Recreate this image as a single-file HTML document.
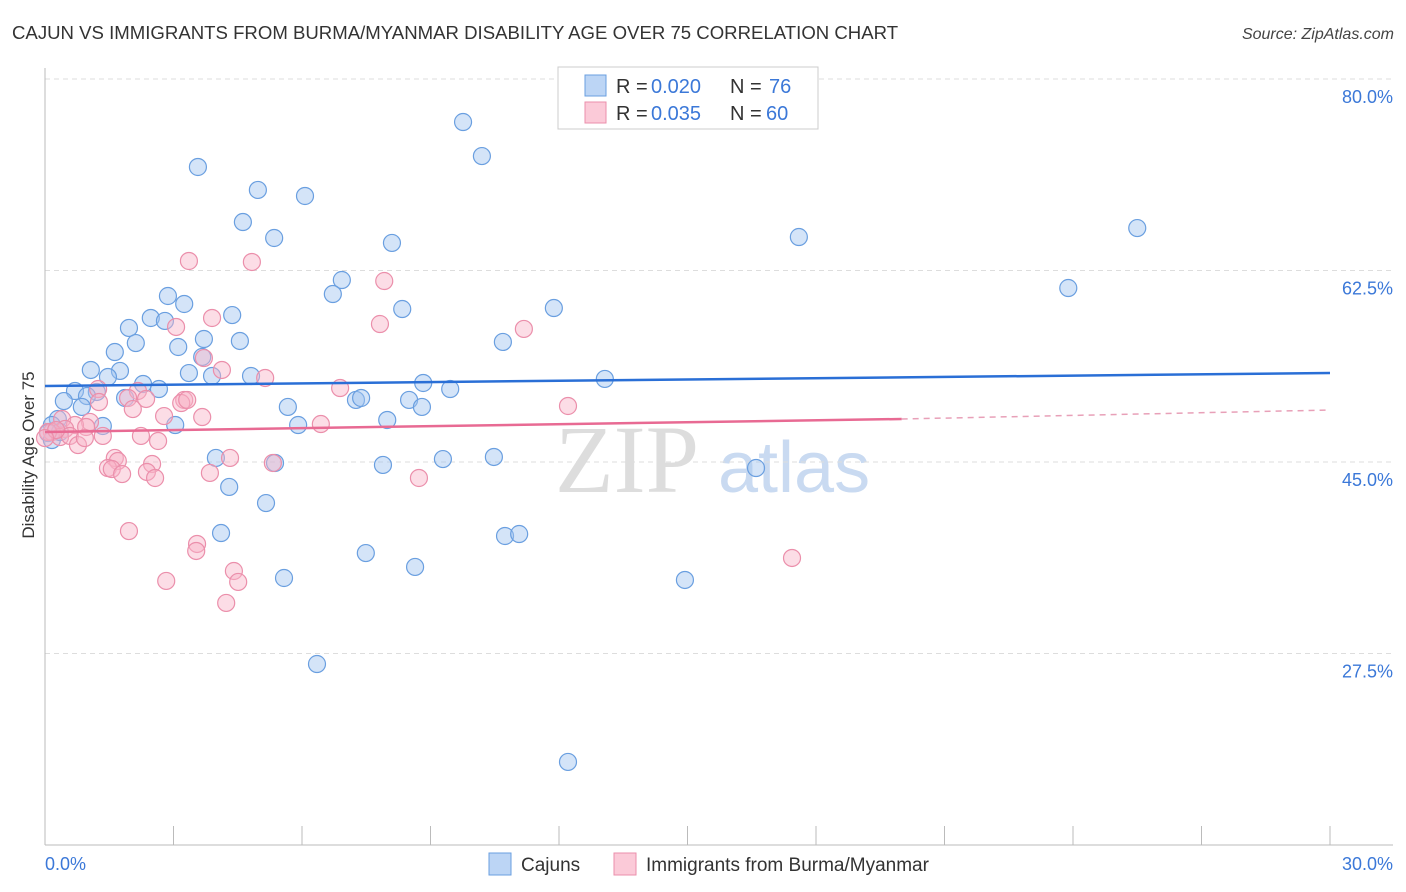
<!DOCTYPE html>
<html><head><meta charset="utf-8"><style>
body{margin:0;background:#fff;font-family:"Liberation Sans",sans-serif;}
svg{display:block}
</style></head><body>
<svg id="chart" width="1406" height="892" font-family="Liberation Sans, sans-serif">
<text x="12" y="39" font-size="18.6" fill="#333">CAJUN VS IMMIGRANTS FROM BURMA/MYANMAR DISABILITY AGE OVER 75 CORRELATION CHART</text>
<text x="1394" y="39" font-size="16" fill="#444" text-anchor="end" font-style="italic">Source: ZipAtlas.com</text>
<text x="555" y="492" font-size="96" fill="#ddd" font-family="Liberation Serif, serif">ZIP</text>
<text x="718" y="492" font-size="72" fill="#c9daf1">atlas</text>
<g id="grid"></g>
<g id="axes"></g>
<g id="marks"></g>
<text transform="translate(34,455) rotate(-90)" font-size="17" fill="#333" text-anchor="middle">Disability Age Over 75</text>
<text x="45" y="870" font-size="18" fill="#3b78d8">0.0%</text>
<text x="1393" y="870" font-size="18" fill="#3b78d8" text-anchor="end">30.0%</text>
<g>
<rect x="558" y="67" width="260" height="62" fill="#fff" stroke="#ccc"/>
<rect x="585" y="75" width="21" height="21" fill="#bcd5f5" stroke="#6a9fe0"/>
<rect x="585" y="102" width="21" height="21" fill="#fbcad8" stroke="#eb8fab"/>
<text x="616" y="93" font-size="20" fill="#333">R =</text>
<text x="651" y="93" font-size="20" fill="#3b78d8">0.020</text>
<text x="730" y="93" font-size="20" fill="#333">N =</text>
<text x="769" y="93" font-size="20" fill="#3b78d8">76</text>
<text x="616" y="120" font-size="20" fill="#333">R =</text>
<text x="651" y="120" font-size="20" fill="#3b78d8">0.035</text>
<text x="730" y="120" font-size="20" fill="#333">N =</text>
<text x="766" y="120" font-size="20" fill="#3b78d8">60</text>
</g>
<g>
<rect x="489" y="853" width="22" height="22" fill="#bcd5f5" stroke="#6a9fe0"/>
<text x="521" y="871" font-size="19" fill="#333">Cajuns</text>
<rect x="614" y="853" width="22" height="22" fill="#fbcad8" stroke="#eb8fab"/>
<text x="646" y="871" font-size="19" fill="#333">Immigrants from Burma/Myanmar</text>
</g>
</svg>
<script>
const yTicks=[80,62.5,45,27.5];
const yTickLabels=["80.0%","62.5%","45.0%","27.5%"];
const xTicks=[0,3,6,9,12,15,18,21,24,27,30];
const blueX=[9.76,10.20,3.57,4.97,6.07,4.62,5.35,8.10,17.60,25.50,23.89,6.93,2.87,6.72,3.25,8.34,11.88,2.47,2.80,4.37,1.96,3.71,4.55,2.12,3.11,10.69,1.63,3.67,1.07,1.75,3.36,3.90,1.47,4.81,8.83,13.07,2.29,2.66,0.70,9.46,1.21,0.98,1.87,7.26,7.38,8.50,0.44,5.67,8.80,0.86,0.30,1.35,3.04,5.91,7.99,0.16,0.07,3.99,5.37,7.89,9.29,10.48,16.60,4.30,5.16,4.11,10.74,11.07,7.49,8.64,5.58,14.94,6.35,12.21,0.16,0.35];
const blueY=[76.07,72.96,71.96,69.86,69.31,66.93,65.47,65.02,65.56,66.38,60.90,61.63,60.17,60.35,59.44,58.98,59.07,58.16,57.89,58.43,57.25,56.24,56.06,55.87,55.51,55.97,55.05,54.60,53.41,53.32,53.13,52.86,52.77,52.86,52.22,52.59,52.13,51.67,51.49,51.67,51.40,51.03,50.85,50.67,50.85,50.67,50.57,50.03,50.03,50.03,48.93,48.29,48.38,48.38,48.84,48.38,47.65,45.37,44.91,44.73,45.27,45.46,44.45,42.72,41.25,38.51,38.24,38.42,36.68,35.41,34.40,34.22,26.54,17.59,47.01,47.74];
const pinkX=[3.36,4.83,7.92,3.90,7.82,11.18,3.06,3.71,4.13,5.14,6.89,1.24,2.17,1.94,2.36,3.25,3.18,3.32,1.26,2.05,2.78,3.67,6.44,12.21,0.40,1.05,0.70,0.96,0.47,0.16,0.35,0.58,0.77,1.35,0.93,2.24,2.64,1.63,1.70,2.50,1.47,1.56,2.38,1.80,2.57,4.32,3.85,5.32,8.73,1.96,3.55,3.53,4.41,4.51,2.83,4.23,17.44,0.07,0.26,0.0];
const pinkY=[63.37,63.28,61.54,58.16,57.61,57.16,57.34,54.50,53.41,52.68,51.76,51.67,51.49,50.85,50.76,50.67,50.39,50.67,50.48,49.84,49.20,49.11,48.47,50.12,48.93,48.66,48.38,48.20,48.02,47.74,47.28,47.38,46.55,47.38,47.19,47.38,46.92,45.37,45.09,44.82,44.45,44.36,44.09,43.90,43.54,45.37,44.00,44.91,43.54,38.69,37.51,36.87,35.04,34.04,34.13,32.12,36.23,47.74,47.92,47.19];
const blueTrend=[51.95,53.13];
const pinkTrend=[47.74,48.93,49.75];
const NS="http://www.w3.org/2000/svg";
const X=v=>45+v*(1285/30);
const Y=v=>79+(80-v)*10.943;
function mk(tag,attrs,parent){const e=document.createElementNS(NS,tag);for(const k in attrs)e.setAttribute(k,attrs[k]);parent.appendChild(e);return e;}
const grid=document.getElementById('grid'),axes=document.getElementById('axes'),marks=document.getElementById('marks');
yTicks.forEach((t,i)=>{
  const l=mk('line',{x1:45,x2:1393,y1:Y(t),y2:Y(t),stroke:'#ddd','stroke-dasharray':'5,4'},grid);
  
  
  const tx=mk('text',{x:1393,y:Y(t)+24,'font-size':18,fill:'#3b78d8','text-anchor':'end'},grid);
  tx.textContent=yTickLabels[i];
  
  
});
const ya=mk('line',{x1:45,x2:45,y1:68,y2:845,stroke:'#bbb'},axes);


const xa=mk('line',{x1:45,x2:1393,y1:845,y2:845,stroke:'#bbb'},axes);


xTicks.forEach(t=>{
  const l=mk('line',{x1:X(t),x2:X(t),y1:826,y2:845,stroke:'#bbb'},axes);
  
  
});
blueX.forEach((v,i)=>{
  const c=mk('circle',{cx:X(v),cy:Y(blueY[i]),r:8.5,fill:'rgba(160,196,240,0.45)',stroke:'#6a9fe0','stroke-width':1.2},marks);
  
  
});
pinkX.forEach((v,i)=>{
  const c=mk('circle',{cx:X(v),cy:Y(pinkY[i]),r:8.5,fill:'rgba(248,180,200,0.45)',stroke:'#eb8fab','stroke-width':1.2},marks);
  
  
});
const bl=mk('line',{x1:X(0),x2:X(30),y1:Y(blueTrend[0]),y2:Y(blueTrend[1]),stroke:'#2a6fd6','stroke-width':2.5},marks);


const pl=mk('line',{x1:X(0),x2:X(20),y1:Y(pinkTrend[0]),y2:Y(pinkTrend[1]),stroke:'#e86a93','stroke-width':2.5},marks);


const pd=mk('line',{x1:X(20),x2:X(30),y1:Y(pinkTrend[1]),y2:Y(pinkTrend[2]),stroke:'#e8a0b8','stroke-width':1.5,'stroke-dasharray':'6,5'},marks);


</script>
</body></html>
